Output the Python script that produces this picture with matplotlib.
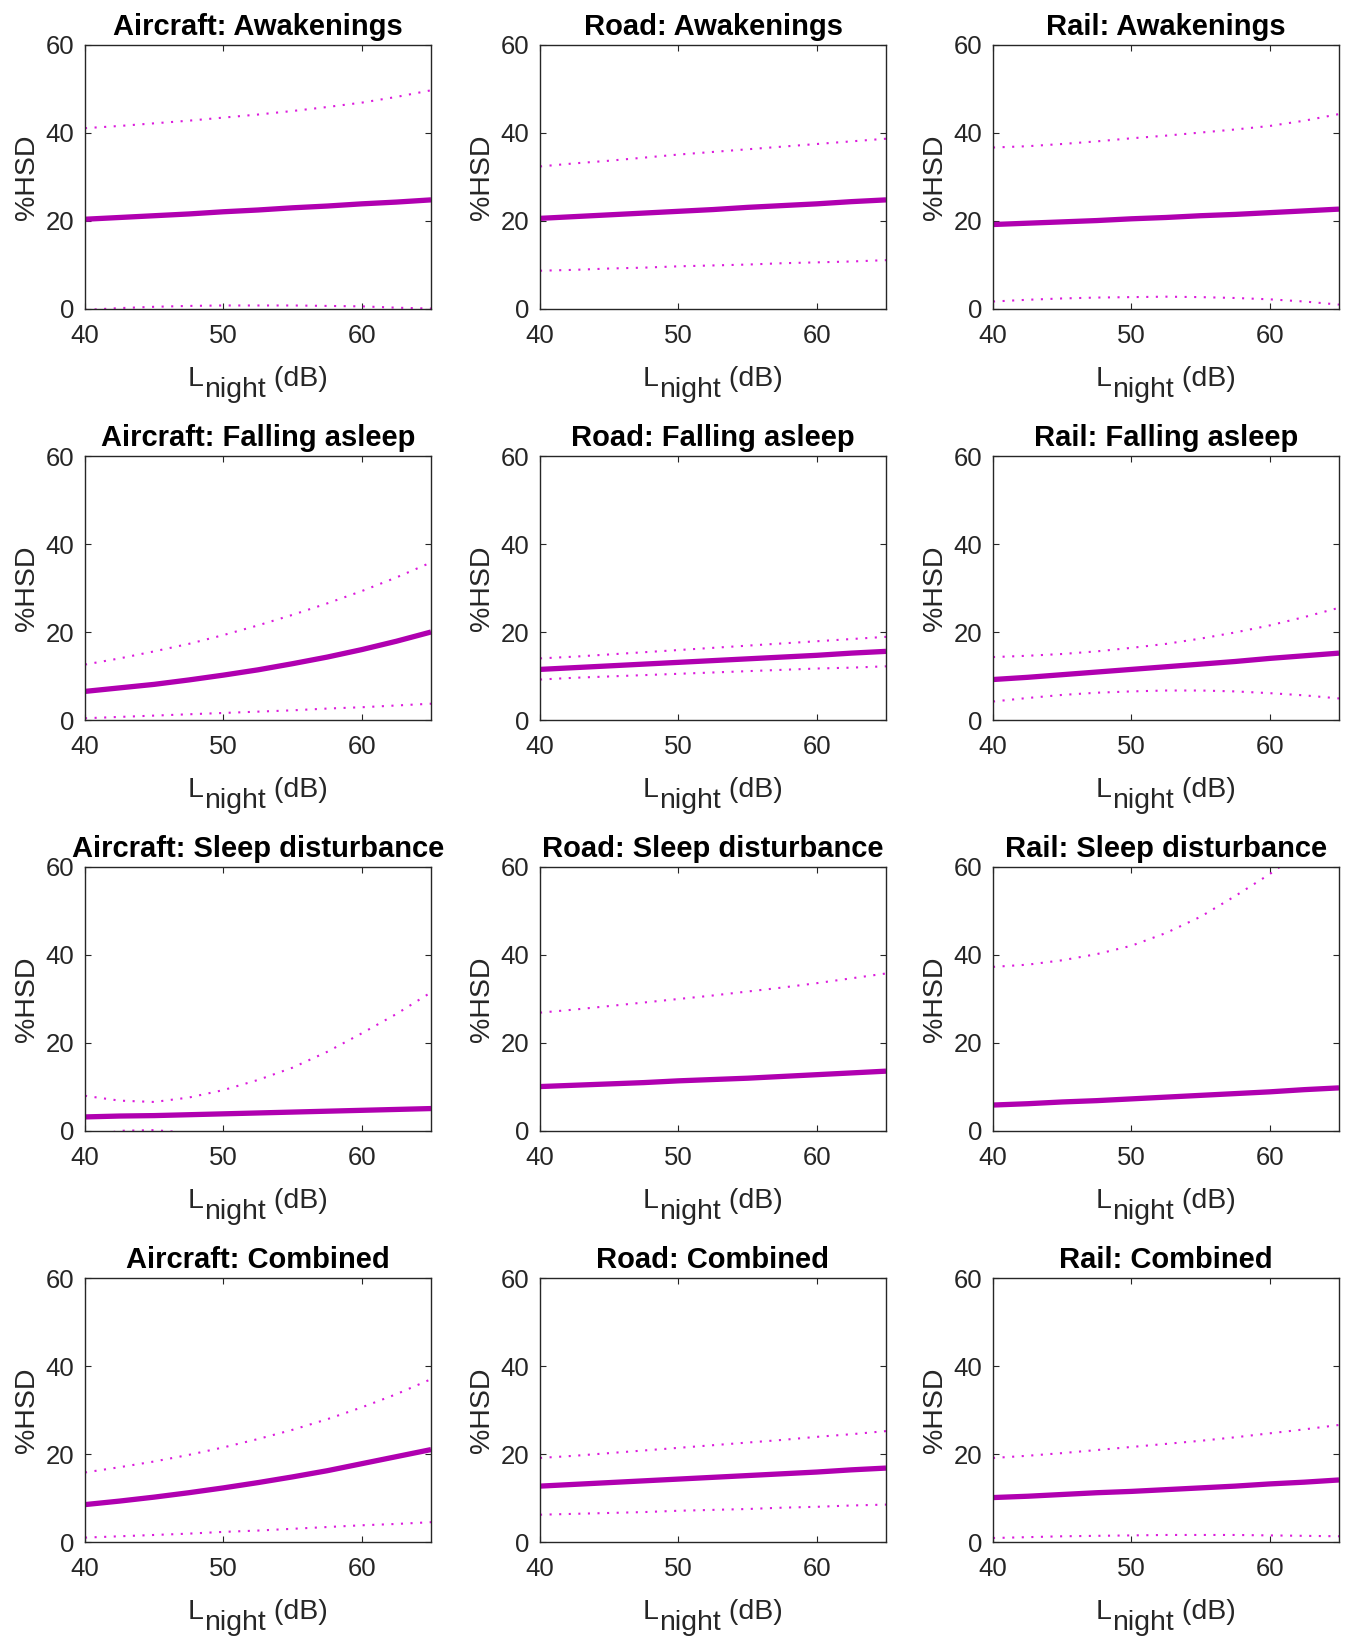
import matplotlib
matplotlib.use("Agg")
import matplotlib.pyplot as plt
import numpy as np

plt.rcParams["font.family"] = ["Liberation Sans", "DejaVu Sans"]

# noise level grid (dB)
Lnight = [40, 42.5, 45, 47.5, 50, 52.5, 55, 57.5, 60, 62.5, 65]

sources = ["Aircraft", "Road", "Rail"]
outcomes = ["Awakenings", "Falling asleep", "Sleep disturbance", "Combined"]

# %HSD estimate, upper and lower bounds
aircraft_awake = [20.4, 20.8, 21.2, 21.6, 22.1, 22.5, 23.0, 23.4, 23.9, 24.3, 24.8]
aircraft_awake_hi = [41.1, 41.6, 42.2, 42.8, 43.5, 44.2, 45.0, 45.9, 46.9, 48.2, 49.7]
aircraft_awake_lo = [-0.2, 0.2, 0.5, 0.7, 0.8, 0.8, 0.8, 0.7, 0.6, 0.3, 0.1]

road_awake = [20.6, 21.0, 21.4, 21.8, 22.2, 22.6, 23.1, 23.5, 23.9, 24.4, 24.8]
road_awake_hi = [32.4, 33.1, 33.7, 34.4, 35.1, 35.7, 36.3, 36.9, 37.5, 38.1, 38.7]
road_awake_lo = [8.7, 8.9, 9.2, 9.4, 9.7, 9.9, 10.1, 10.4, 10.6, 10.8, 11.1]

rail_awake = [19.2, 19.5, 19.8, 20.1, 20.5, 20.8, 21.2, 21.5, 21.9, 22.3, 22.7]
rail_awake_hi = [36.7, 37.0, 37.5, 38.1, 38.8, 39.4, 40.1, 40.8, 41.6, 42.8, 44.3]
rail_awake_lo = [1.7, 2.1, 2.4, 2.6, 2.7, 2.8, 2.7, 2.5, 2.2, 1.7, 1.0]

aircraft_fall = [6.5, 7.3, 8.1, 9.1, 10.2, 11.4, 12.8, 14.3, 16.0, 17.9, 20.0]
aircraft_fall_hi = [12.6, 14.0, 15.6, 17.3, 19.3, 21.5, 23.9, 26.5, 29.3, 32.4, 35.8]
aircraft_fall_lo = [0.4, 0.7, 1.0, 1.3, 1.6, 1.9, 2.2, 2.6, 2.9, 3.3, 3.7]

road_fall = [11.5, 11.9, 12.3, 12.7, 13.1, 13.5, 13.9, 14.3, 14.7, 15.2, 15.6]
road_fall_hi = [14.0, 14.4, 14.9, 15.4, 15.9, 16.4, 16.9, 17.4, 17.9, 18.4, 18.9]
road_fall_lo = [9.2, 9.6, 9.9, 10.2, 10.5, 10.8, 11.1, 11.4, 11.7, 11.9, 12.2]

rail_fall = [9.2, 9.7, 10.3, 10.9, 11.5, 12.1, 12.7, 13.3, 14.0, 14.6, 15.2]
rail_fall_hi = [14.3, 14.6, 15.0, 15.6, 16.4, 17.3, 18.5, 19.9, 21.5, 23.4, 25.5]
rail_fall_lo = [4.2, 5.0, 5.7, 6.2, 6.5, 6.7, 6.7, 6.5, 6.1, 5.6, 4.9]

aircraft_sd = [3.2, 3.4, 3.5, 3.7, 3.9, 4.1, 4.3, 4.5, 4.7, 4.9, 5.1]
aircraft_sd_hi = [8.0, 6.9, 6.6, 7.6, 9.3, 11.6, 14.4, 18.0, 22.2, 26.6, 31.5]
aircraft_sd_lo = [-1.5, 0.05, 0.2, -0.4, -2.0, -4.0, -6.0, -9.0, -12.0, -16.0, -20.0]

road_sd = [10.1, 10.4, 10.7, 11.0, 11.4, 11.7, 12.0, 12.4, 12.8, 13.2, 13.6]
road_sd_hi = [26.9, 27.6, 28.4, 29.2, 30.0, 30.8, 31.7, 32.6, 33.6, 34.7, 35.8]
road_sd_lo = [np.nan] * 11  # below the axis

rail_sd = [5.9, 6.2, 6.6, 6.9, 7.3, 7.7, 8.1, 8.5, 8.9, 9.4, 9.8]
rail_sd_hi = [37.3, 37.8, 38.8, 40.2, 42.1, 45.0, 48.7, 53.4, 58.4, 64.0, 70.0]
rail_sd_lo = [np.nan] * 11  # below the axis

aircraft_comb = [8.5, 9.3, 10.2, 11.2, 12.3, 13.5, 14.8, 16.2, 17.8, 19.4, 21.0]
aircraft_comb_hi = [15.8, 17.0, 18.3, 19.8, 21.5, 23.4, 25.5, 27.9, 30.6, 33.6, 37.0]
aircraft_comb_lo = [1.0, 1.3, 1.6, 1.9, 2.3, 2.6, 3.0, 3.4, 3.8, 4.1, 4.5]

road_comb = [12.7, 13.1, 13.5, 13.9, 14.3, 14.7, 15.1, 15.5, 15.9, 16.4, 16.8]
road_comb_hi = [19.1, 19.6, 20.2, 20.8, 21.4, 22.0, 22.6, 23.2, 23.9, 24.5, 25.2]
road_comb_lo = [6.2, 6.4, 6.6, 6.8, 7.1, 7.3, 7.5, 7.8, 8.0, 8.3, 8.5]

rail_comb = [10.1, 10.4, 10.8, 11.2, 11.5, 11.9, 12.3, 12.7, 13.2, 13.6, 14.1]
rail_comb_hi = [19.1, 19.6, 20.2, 20.9, 21.6, 22.3, 23.0, 23.8, 24.7, 25.6, 26.6]
rail_comb_lo = [0.9, 1.1, 1.3, 1.4, 1.5, 1.6, 1.6, 1.6, 1.5, 1.4, 1.3]

curves = [
    [(aircraft_awake, aircraft_awake_hi, aircraft_awake_lo),
     (road_awake, road_awake_hi, road_awake_lo),
     (rail_awake, rail_awake_hi, rail_awake_lo)],
    [(aircraft_fall, aircraft_fall_hi, aircraft_fall_lo),
     (road_fall, road_fall_hi, road_fall_lo),
     (rail_fall, rail_fall_hi, rail_fall_lo)],
    [(aircraft_sd, aircraft_sd_hi, aircraft_sd_lo),
     (road_sd, road_sd_hi, road_sd_lo),
     (rail_sd, rail_sd_hi, rail_sd_lo)],
    [(aircraft_comb, aircraft_comb_hi, aircraft_comb_lo),
     (road_comb, road_comb_hi, road_comb_lo),
     (rail_comb, rail_comb_hi, rail_comb_lo)],
]

W, H = 1349, 1636
fig = plt.figure(figsize=(W / 100, H / 100), dpi=100)

col_left = [85, 540, 993]
row_top = [45, 456, 867, 1278]
ax_w, ax_h = 346, 264

main_color = "#b000b0"
ci_color = "#dc1adc"
axis_color = "#262626"
label_size = 20.5

for r in range(4):
    for c in range(3):
        ax = fig.add_axes([col_left[c] / W, 1 - (row_top[r] + ax_h) / H, ax_w / W, ax_h / H])
        est, hi, lo = curves[r][c]
        ax.plot(Lnight, hi, color=ci_color, linewidth=1.5, linestyle=(0, (1, 3.6)))
        ax.plot(Lnight, lo, color=ci_color, linewidth=1.5, linestyle=(0, (1, 3.6)))
        ax.plot(Lnight, est, color=main_color, linewidth=3.8, solid_capstyle="butt")
        ax.set_xlim(40, 65)
        ax.set_ylim(0, 60)
        ax.set_xticks([40, 50, 60])
        ax.set_yticks([0, 20, 40, 60])
        ax.tick_params(direction="in", length=4, width=0.8, top=True, right=True,
                       labelsize=18.5, colors=axis_color)
        ax.tick_params(axis="x", pad=11)
        ax.tick_params(axis="y", pad=8)
        for s in ax.spines.values():
            s.set_color(axis_color)
            s.set_linewidth(1.0)
        ax.set_title(sources[c] + ": " + outcomes[r], fontsize=21, fontweight="bold", pad=7)
        ax.set_ylabel("%HSD", fontsize=label_size, color=axis_color, labelpad=4)

        # x label "L" with a lowered, same-size "night" subscript, then "(dB)"
        tL = ax.text(0.297, -0.29, "L", transform=ax.transAxes, ha="left", va="baseline",
                     fontsize=label_size, color=axis_color)
        tn = ax.annotate("night", xy=(1, 0), xycoords=tL, xytext=(0.5, -8),
                         textcoords="offset points", ha="left", va="bottom",
                         fontsize=label_size, color=axis_color)
        ax.annotate(" (dB)", xy=(1, 0), xycoords=tn, xytext=(0, 8),
                    textcoords="offset points", ha="left", va="bottom",
                    fontsize=label_size, color=axis_color)

fig.savefig("out.png", dpi=100)
